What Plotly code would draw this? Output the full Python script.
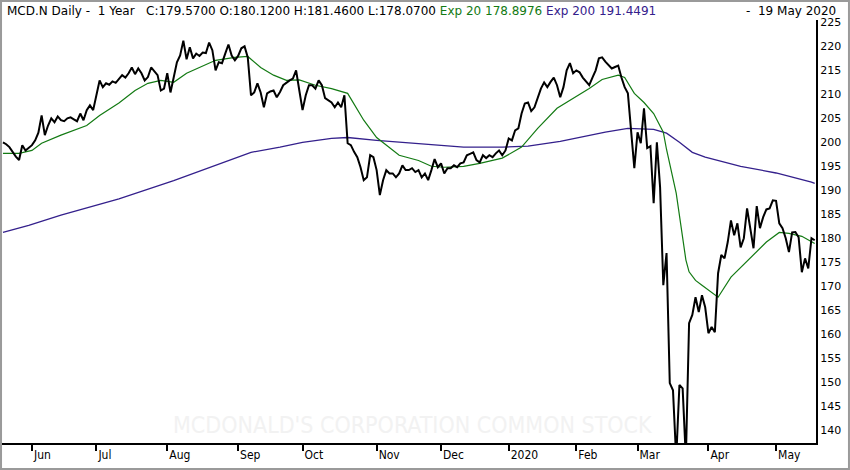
import plotly.graph_objects as go

# Daily closes, one per trading day (20 May 2019 .. 19 May 2020)
close = [
    200.0, 199.6, 199.0, 198.0, 197.0, 196.3, 199.4, 198.3, 198.8, 199.4,
    200.4, 202.0, 205.6, 201.5, 203.5, 205.0, 204.2, 205.4, 204.6, 204.4,
    205.0, 205.2, 204.8, 204.4, 206.0, 204.6, 206.7, 207.7, 206.7, 209.8,
    212.9, 211.5, 212.3, 212.0, 212.7, 212.4, 213.1, 214.0, 213.5, 214.4,
    215.6, 214.2, 215.4, 214.4, 212.9, 213.6, 215.6, 214.8, 214.0, 210.8,
    211.2, 214.4, 210.4, 213.5, 216.7, 218.1, 221.2, 217.3, 219.8, 217.5,
    218.5, 218.0, 218.7, 218.6, 220.8, 219.2, 215.0, 216.7, 216.5, 218.5,
    220.4, 218.1, 217.1, 218.0, 219.6, 220.0, 217.7, 209.8, 210.4, 212.3,
    210.4, 207.3, 210.2, 210.6, 210.8, 209.4, 210.5, 211.9, 212.5, 212.9,
    213.3, 215.0, 210.8, 206.7, 209.8, 211.9, 211.9, 211.2, 212.9, 211.9,
    209.2, 208.8, 208.3, 207.3, 208.3, 207.3, 209.8, 199.8, 199.4, 198.0,
    196.9, 194.8, 192.1, 192.7, 197.3, 196.9, 194.2, 189.0, 192.1, 194.2,
    193.5, 193.5, 192.7, 193.5, 195.2, 194.2, 194.2, 194.6, 193.8, 194.2,
    192.7, 193.5, 192.1, 194.2, 196.5, 194.8, 195.6, 193.5, 194.6, 194.6,
    195.2, 194.8, 195.6, 195.8, 197.3, 197.6, 197.9, 196.3, 195.8, 197.3,
    196.7, 197.3, 196.9, 197.7, 198.3, 197.3, 198.3, 200.8, 200.4, 202.5,
    202.9, 206.0, 208.1, 208.3, 206.5, 207.3, 209.5, 211.2, 212.5, 211.5,
    212.6, 213.5, 211.9, 209.4, 211.5, 215.0, 216.5, 214.4, 215.0, 214.6,
    213.5, 212.8, 211.9, 213.5, 215.0, 217.5, 217.7, 216.8, 216.0, 215.4,
    215.7, 216.0, 213.5, 211.5, 210.2, 203.1, 194.6, 202.1, 199.8, 207.1,
    198.8, 199.2, 187.3, 200.0, 190.6, 170.2, 176.9, 149.8, 148.3, 134.0,
    149.4, 148.7, 134.0, 162.3, 164.0, 167.7, 164.6, 168.1, 165.6, 160.2,
    161.5, 160.4, 172.7, 176.5, 175.8, 179.2, 183.7, 180.6, 183.1, 178.1,
    180.0, 186.2, 181.7, 177.9, 186.7, 182.1, 184.4, 186.0, 186.2, 187.9,
    187.8, 183.1, 182.1, 180.0, 177.1, 181.2, 181.3, 180.2, 172.9, 175.8,
    173.7, 180.0, 179.57,
]
days = list(range(len(close)))

ema20_days = [0, 5, 9, 12, 18, 26, 30, 36, 41, 45, 49, 53, 57, 61, 66, 72, 76,
              80, 84, 88, 92, 97, 102, 107, 112, 116, 123, 129, 133, 137, 143,
              148, 155, 161, 166, 172, 176, 182, 186, 191, 193, 196, 199, 202,
              205, 206, 209, 211, 212, 213, 215, 217, 222, 226, 232, 237, 241,
              244, 248, 251, 252]
ema20 = [197.7, 197.7, 198.3, 199.8, 201.5, 203.5, 205.6, 208.2, 210.8, 212.3,
         212.9, 212.5, 214.4, 215.6, 217.1, 217.7, 217.9, 215.6, 214.0, 212.9,
         213.0, 211.9, 211.2, 210.2, 204.6, 201.0, 197.3, 196.2, 195.0, 194.8,
         195.0, 195.6, 196.7, 199.0, 202.9, 207.1, 208.7, 211.2, 213.1, 214.0,
         213.5, 210.2, 208.3, 206.0, 202.1, 198.5, 189.4, 180.2, 175.5, 173.0,
         171.2, 170.2, 167.7, 171.9, 176.0, 179.2, 181.2, 181.0, 180.4, 179.2,
         178.9]

ema200_days = [0, 8, 18, 27, 36, 53, 72, 77, 86, 93, 102, 107, 116, 127, 137,
               143, 155, 163, 173, 182, 187, 194, 202, 206, 210, 214, 218, 229,
               240, 251, 252]
ema200 = [181.2, 182.7, 184.8, 186.5, 188.2, 192.0, 196.7, 197.9, 199.0, 200.0,
          200.8, 201.0, 200.4, 199.8, 199.4, 199.0, 199.0, 199.2, 200.2, 201.5,
          202.1, 202.9, 202.7, 201.9, 200.0, 197.9, 196.9, 195.0, 193.6, 191.7,
          191.45]

# first trading day of each month
month_days = [9, 29, 51, 73, 93, 116, 136, 157, 178, 197, 219, 240]
month_labels = ["Jun", "Jul", "Aug", "Sep", "Oct", "Nov", "Dec", "2020",
                "Feb", "Mar", "Apr", "May"]

GREEN = "#137a13"
PURPLE = "#34208c"

fig = go.Figure()

fig.add_trace(go.Scatter(x=ema200_days, y=ema200, mode="lines",
                         line=dict(color=PURPLE, width=1.3)))
fig.add_trace(go.Scatter(x=ema20_days, y=ema20, mode="lines",
                         line=dict(color=GREEN, width=1.2)))
fig.add_trace(go.Scatter(x=days, y=close, mode="lines",
                         line=dict(color="black", width=2)))

header = ("MCD.N Daily -\u00a0 1 Year\u00a0\u00a0 C:179.5700 O:180.1200 "
          "H:181.4600 L:178.0700 "
          f"<span style='color:{GREEN}'>Exp 20 178.8976</span> "
          f"<span style='color:{PURPLE}'>Exp 200 191.4491</span>")

fig.add_annotation(text=header, xref="paper", yref="paper", x=0.004, y=1.022,
                   xanchor="left", yanchor="middle", showarrow=False,
                   font=dict(family="DejaVu Sans", size=12, color="black"))
fig.add_annotation(text="-\u00a0 19 May 2020", xref="paper", yref="paper",
                   x=1.027, y=1.022, xanchor="right", yanchor="middle",
                   showarrow=False,
                   font=dict(family="DejaVu Sans", size=12, color="black"))
fig.add_annotation(text="MCDONALD'S CORPORATION COMMON STOCK", xref="paper",
                   yref="paper", x=0.504, y=0.043, xanchor="center",
                   yanchor="middle", showarrow=False,
                   font=dict(family="DejaVu Sans Condensed", size=23,
                             color="#f2f2f2"))

# grey frame round the whole picture
fig.add_shape(type="rect", xref="paper", yref="paper",
              x0=-0.0012, x1=1.0405, y0=-0.0615, y1=1.0449,
              line=dict(color="#9a9a9a", width=2), layer="below")

fig.update_layout(
    width=850,
    height=470,
    margin=dict(l=2, r=34, t=20, b=27),
    plot_bgcolor="white",
    paper_bgcolor="white",
    showlegend=False,
    xaxis=dict(
        range=[-0.3, 252.4],
        tickvals=month_days,
        ticktext=month_labels,
        ticks="outside",
        ticklen=6,
        tickwidth=2,
        tickcolor="black",
        ticklabelposition="outside right",
        showgrid=False,
        zeroline=False,
        showline=True,
        linecolor="black",
        linewidth=2,
        tickfont=dict(family="DejaVu Sans Condensed", size=12, color="black"),
    ),
    yaxis=dict(
        side="right",
        range=[137.3, 225.5],
        tick0=140,
        dtick=5,
        ticks="",
        showgrid=False,
        zeroline=False,
        showline=True,
        linecolor="black",
        linewidth=2,
        tickfont=dict(family="DejaVu Sans", size=11, color="black"),
    ),
)

# page body has a default 8px margin; drop it so the figure sits at 0,0
fig.write_html("out.html", config={"displayModeBar": False},
               post_script="document.body.style.margin='0';")
